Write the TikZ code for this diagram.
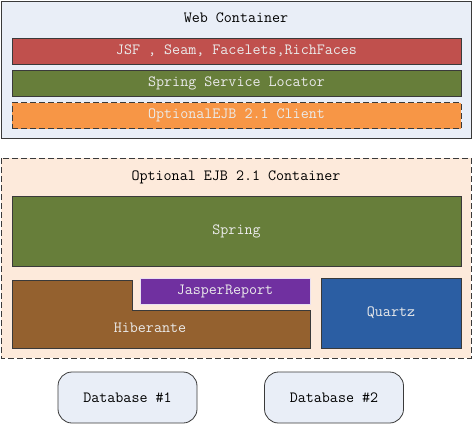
\documentclass[tikz,border=0pt]{standalone}
\usepackage{tikz}
\usetikzlibrary{backgrounds,calc}
\definecolor{webbg}{HTML}{E9EEF7}
\definecolor{ejbbg}{HTML}{FDEADB}
\definecolor{jsfred}{HTML}{C0504D}
\definecolor{springgreen}{HTML}{677E3A}
\definecolor{clientorange}{HTML}{F79646}
\definecolor{jasperpurple}{HTML}{7030A0}
\definecolor{hibbrown}{HTML}{94612F}
\definecolor{quartzblue}{HTML}{2B5EA3}
\definecolor{edge}{HTML}{3A3A3A}
\tikzset{
  bar/.style={draw=edge,line width=0.8pt,text=white!92!black,font=\ttfamily\fontsize{15.6}{18}\selectfont,
    minimum width=449pt,minimum height=26pt,inner sep=0pt},
  title/.style={font=\ttfamily\fontsize{15.6}{18}\selectfont},
  dbbox/.style={draw=edge,line width=0.8pt,fill=webbg,rounded corners=14pt,
    minimum width=139pt,minimum height=51pt,font=\ttfamily\fontsize{15.6}{18}\selectfont}
}
\begin{document}
\begin{tikzpicture}[x=1pt,y=-1pt]
\useasboundingbox (0,0) rectangle (473,424);
% web container
\draw[edge,line width=0.8pt,fill=webbg] (1,1) rectangle (471,138);
\node[title] (web) at (236,18) {Web Container};
\node[bar,fill=jsfred] (jsf) at (236.5,51) {JSF , Seam, Facelets,RichFaces};
\node[bar,fill=springgreen] (locator) at (236.5,83) {Spring Service Locator};
\node[bar,fill=clientorange,dash pattern=on 6pt off 3pt] (client) at (236.5,115.5) {OptionalEJB 2.1 Client};
% ejb container
\draw[edge,line width=0.8pt,dash pattern=on 6pt off 3pt,fill=ejbbg] (1,158) rectangle (471,358);
\node[title] (ejb) at (236,177) {Optional EJB 2.1 Container};
\node[bar,fill=springgreen,minimum height=70pt] (spring) at (236.5,231) {Spring};
\draw[edge,line width=0.8pt,fill=hibbrown] (12,280) -- (132,280) -- (132,310) -- (310,310) -- (310,348) -- (12,348) -- cycle;
\node[title,text=white!92!black] (hib) at (150,328) {Hiberante};
\node[bar,fill=jasperpurple,draw=white!85!jasperpurple,minimum width=170pt] (jasper) at (225,291) {JasperReport};
\node[bar,fill=quartzblue,minimum width=140pt,minimum height=70pt] (quartz) at (391,313) {Quartz};
% databases
\node[dbbox] (db1) at (127.5,397.5) {Database \#1};
\node[dbbox] (db2) at (334,397.5) {Database \#2};
\end{tikzpicture}
\end{document}
